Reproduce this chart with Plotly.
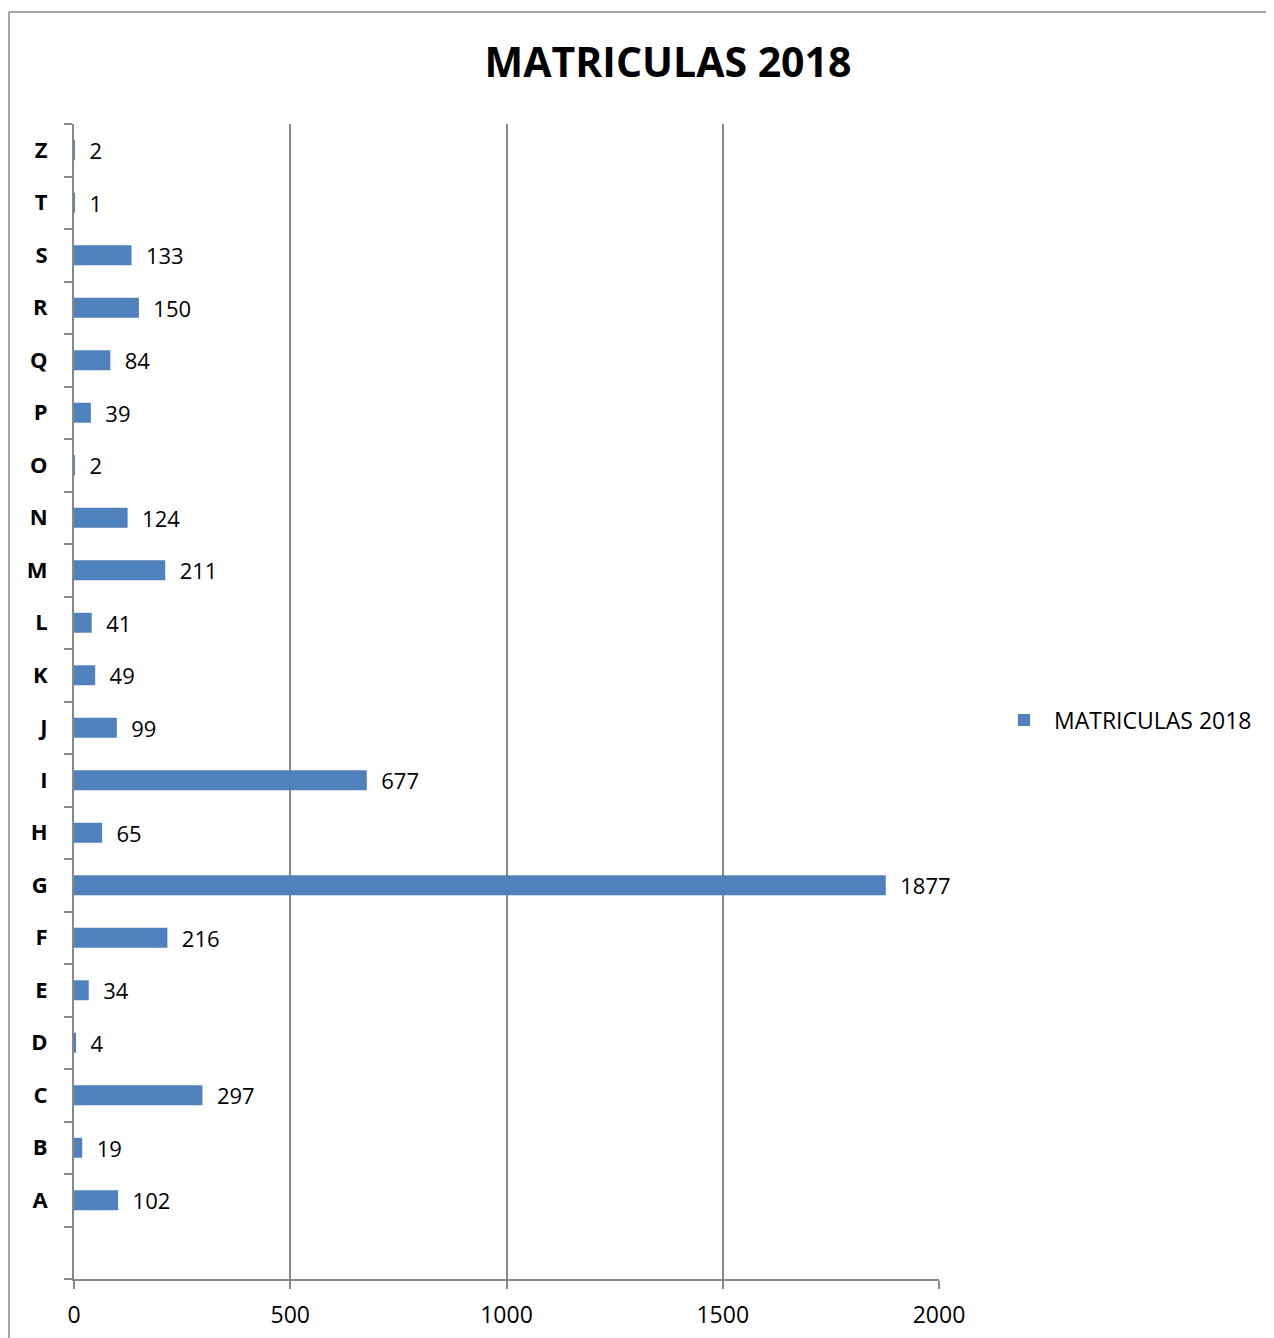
import plotly.graph_objects as go

categories = [" ", "A", "B", "C", "D", "E", "F", "G", "H", "I", "J", "K", "L", "M", "N", "O", "P", "Q", "R", "S", "T", "Z"]
values = [None, 102, 19, 297, 4, 34, 216, 1877, 65, 677, 99, 49, 41, 211, 124, 2, 39, 84, 150, 133, 1, 2]
x_ticks = [0, 500, 1000, 1500, 2000]
series_name = "MATRICULAS 2018"
title_text = "MATRICULAS 2018"

labels = ["" if v is None else "\u00a0\u00a0" + str(v) for v in values]

FONT = "Open Sans"
GRAY = "#888888"

W, H = 1266, 1330
L, R, T, B = 66, 335, 116, 59
PW = W - L - R
PH = H - T - B

fig = go.Figure()
fig.add_trace(go.Bar(
    y=categories, x=values, orientation="h", name=series_name,
    marker=dict(color="#4F81BD", line=dict(width=0)),
    text=labels, textposition="outside", cliponaxis=False, constraintext="none",
    textfont=dict(family=FONT, size=22, color="#000000"),
    showlegend=True,
))

fig.update_layout(
    width=W, height=H,
    margin=dict(l=L, r=R, t=T, b=B),
    paper_bgcolor="white", plot_bgcolor="white",
    bargap=0.62,
    title=dict(text="<b>" + title_text + "</b>", x=(668 - 8) / W, xref="container", xanchor="center",
               y=1 - 55 / H, yref="container", yanchor="middle",
               font=dict(family=FONT, size=41, color="#000000")),
    xaxis=dict(range=[0, 2000], tickvals=x_ticks, ticktext=[str(t) for t in x_ticks],
               showgrid=True, gridcolor=GRAY, gridwidth=2, zeroline=False,
               showline=True, linecolor=GRAY, linewidth=2,
               ticks="outside", ticklen=8, tickcolor=GRAY, tickwidth=2,
               ticklabelstandoff=6, automargin=False,
               tickfont=dict(family=FONT, size=23, color="#000000")),
    yaxis=dict(type="category", categoryorder="array", categoryarray=categories,
               range=[-0.5, len(categories) - 0.5],
               showgrid=False, zeroline=False,
               showline=True, linecolor=GRAY, linewidth=2,
               ticks="outside", tickson="boundaries", ticklen=8, tickcolor=GRAY, tickwidth=2,
               ticklabelstandoff=20, automargin=False,
               tickfont=dict(family=FONT, size=22, color="#000000", weight="bold")),
    legend=dict(x=(994 - 8 - L) / PW, y=(1279 - 720) / 1155, xanchor="left", yanchor="middle",
                font=dict(family=FONT, size=23, color="#000000"),
                bgcolor="rgba(0,0,0,0)", itemwidth=50),
    shapes=[
        dict(type="line", xref="paper", yref="paper", x0=(1 - L) / PW, x1=1 + R / PW,
             y0=1 + (T - 4) / PH, y1=1 + (T - 4) / PH, line=dict(color=GRAY, width=1.5)),
        dict(type="line", xref="paper", yref="paper", x0=(1 - L) / PW, x1=(1 - L) / PW,
             y0=1 + (T - 4) / PH, y1=-B / PH, line=dict(color=GRAY, width=1.5)),
    ],
)

fig.write_html("out.html")
